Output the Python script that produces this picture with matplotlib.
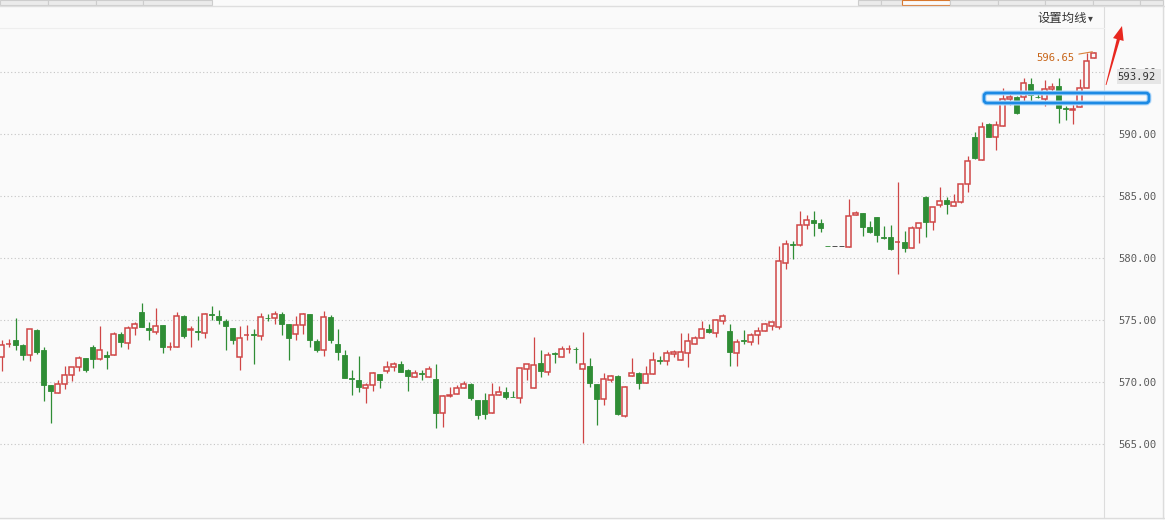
import matplotlib
matplotlib.use("Agg")
import matplotlib.pyplot as plt
from matplotlib.patches import Rectangle, FancyBboxPatch, Polygon
from matplotlib.lines import Line2D

# daily candles (oldest -> newest)
opens = [
    572.02, 573.04, 573.41, 573.01, 572.18, 574.22, 572.61, 569.78, 569.11, 569.84,
    570.56, 571.21, 571.96, 572.82, 571.83, 572.20, 572.18, 573.90, 573.15, 574.35,
    575.67, 574.38, 574.01, 574.62, 572.80, 572.80, 575.35, 574.19, 574.11, 573.95,
    575.51, 575.35, 574.95, 574.38, 572.02, 573.76, 573.84, 573.68, 575.19, 575.13,
    575.51, 574.70, 573.87, 574.60, 575.51, 573.31, 572.55, 575.24, 573.09, 572.20,
    570.32, 570.19, 569.49, 569.73, 570.65, 570.91, 571.18, 571.45, 570.97, 570.43,
    570.75, 570.43, 570.22, 567.47, 568.90, 569.03, 569.49, 569.84, 568.55, 568.55,
    567.47, 568.92, 569.19, 568.82, 568.68, 571.02, 569.49, 571.51, 570.83, 572.31,
    572.04, 572.63, 572.69, 571.02, 571.29, 569.84, 568.60, 570.13, 570.48, 567.26,
    570.46, 570.75, 569.89, 570.62, 571.77, 571.67, 572.26, 571.77, 572.31, 573.09,
    573.52, 574.28, 573.98, 574.95, 574.11, 572.37, 573.39, 573.26, 573.76, 574.09,
    574.54, 574.46, 579.57, 581.13, 581.05, 582.63, 583.06, 582.85, 580.94, 580.94,
    580.94, 580.91, 583.44, 583.60, 582.47, 583.28, 581.67, 581.69, 581.26, 581.29,
    580.78, 582.39, 584.92, 582.87, 584.27, 584.65, 584.19, 584.54, 585.94, 589.78,
    587.90, 590.81, 589.73, 590.65, 592.80, 593.01, 593.01, 594.03, 593.01, 592.82,
    593.60, 593.87, 592.07, 591.94, 592.15, 593.68, 596.10,
]
closes = [
    573.01, 573.06, 573.01, 572.20, 574.27, 572.45, 569.78, 569.25, 569.84, 570.56,
    571.21, 571.96, 570.94, 571.85, 572.58, 571.99, 573.90, 573.20, 574.35, 574.70,
    574.41, 574.17, 574.54, 572.80, 572.83, 575.35, 573.68, 574.27, 574.01, 575.51,
    575.40, 574.97, 574.49, 573.41, 573.55, 573.82, 573.76, 575.24, 575.13, 575.51,
    574.70, 573.52, 574.62, 575.51, 573.36, 572.61, 575.24, 573.41, 572.39, 570.35,
    570.24, 569.57, 569.76, 570.70, 570.16, 571.24, 571.45, 570.83, 570.51, 570.70,
    570.67, 571.02, 567.53, 568.87, 568.98, 569.49, 569.81, 568.71, 567.37, 567.39,
    568.92, 569.19, 568.82, 568.77, 571.10, 571.42, 571.34, 570.91, 572.15, 572.23,
    572.63, 572.69, 572.63, 571.43, 569.89, 568.66, 570.27, 570.46, 567.42, 569.60,
    570.70, 569.95, 570.62, 571.75, 571.72, 572.37, 572.45, 572.42, 573.31, 573.52,
    574.25, 574.06, 575.00, 575.32, 572.45, 573.20, 573.31, 573.79, 574.09, 574.68,
    574.81, 579.76, 581.13, 581.08, 582.66, 583.06, 582.85, 582.45, 580.94, 580.94,
    580.94, 583.39, 583.60, 582.53, 582.12, 581.83, 581.61, 580.75, 581.29, 580.83,
    582.39, 582.80, 582.93, 584.14, 584.62, 584.33, 584.54, 585.94, 587.85, 588.04,
    590.54, 589.78, 590.73, 592.80, 592.96, 591.72, 594.09, 593.15, 592.96, 593.60,
    593.82, 592.12, 592.04, 591.99, 593.68, 595.91, 596.56,
]
highs = [
    573.41, 573.47, 575.19, 573.09, 574.27, 574.27, 572.82, 569.78, 570.19, 571.32,
    571.21, 572.12, 571.96, 573.01, 574.54, 572.53, 574.01, 574.01, 574.54, 574.84,
    576.40, 574.81, 575.97, 574.62, 573.25, 575.62, 575.43, 574.54, 575.35, 575.56,
    576.16, 575.83, 575.08, 574.38, 574.49, 574.62, 574.27, 575.56, 575.51, 575.73,
    575.65, 574.70, 575.30, 575.56, 575.51, 573.47, 575.73, 575.40, 574.30, 572.58,
    570.99, 572.07, 569.95, 570.83, 570.65, 571.67, 571.59, 571.67, 571.02, 570.97,
    570.97, 571.29, 571.45, 568.95, 569.57, 569.73, 570.05, 569.89, 568.55, 569.09,
    569.95, 569.68, 569.62, 569.30, 571.16, 571.45, 573.66, 572.58, 572.45, 572.45,
    572.90, 572.96, 572.80, 574.00, 571.94, 569.84, 570.70, 570.54, 570.54, 569.68,
    571.91, 570.83, 571.29, 572.42, 572.10, 572.58, 572.58, 573.98, 573.98, 573.71,
    574.89, 574.68, 575.11, 575.48, 574.68, 573.44, 574.19, 573.92, 574.46, 574.73,
    574.81, 580.97, 581.45, 581.40, 583.82, 583.47, 583.79, 583.12, 580.94, 580.94,
    580.94, 584.73, 583.76, 583.60, 582.98, 583.28, 582.58, 582.63, 586.13, 582.18,
    582.58, 582.80, 585.00, 584.14, 585.70, 584.89, 585.16, 585.94, 588.23, 590.19,
    590.99, 590.86, 591.08, 593.68, 593.42, 593.07, 594.49, 594.49, 593.42, 594.36,
    594.09, 594.49, 592.26, 592.69, 594.41, 596.51, 596.65,
]
lows = [
    570.86, 572.82, 572.61, 571.75, 571.67, 572.26, 568.44, 566.69, 569.11, 569.46,
    570.05, 570.86, 570.78, 571.10, 571.75, 571.05, 572.18, 572.80, 572.69, 573.79,
    574.41, 573.36, 573.87, 572.34, 572.61, 572.80, 573.52, 572.80, 573.36, 573.52,
    574.97, 574.70, 572.61, 573.09, 570.99, 573.41, 571.48, 573.41, 574.89, 574.65,
    573.82, 571.75, 573.41, 573.90, 572.82, 572.42, 572.07, 573.15, 571.80, 570.32,
    568.98, 569.17, 568.28, 569.30, 569.52, 570.75, 570.91, 570.83, 569.25, 570.43,
    570.16, 570.43, 566.26, 566.40, 568.82, 569.03, 569.49, 568.55, 567.04, 567.04,
    567.47, 568.92, 568.66, 568.76, 568.33, 570.16, 569.49, 570.43, 570.56, 571.51,
    572.04, 572.31, 571.51, 565.12, 569.62, 566.56, 568.17, 570.03, 567.34, 567.20,
    570.46, 569.44, 569.89, 570.62, 571.45, 571.40, 572.04, 571.77, 571.24, 573.09,
    573.52, 573.93, 573.66, 574.68, 571.32, 571.32, 573.07, 572.98, 573.07, 574.09,
    574.19, 574.25, 579.09, 579.92, 580.97, 582.37, 581.77, 582.12, 580.94, 580.94,
    580.94, 580.91, 583.44, 581.80, 582.04, 581.32, 581.56, 580.65, 578.68, 580.45,
    580.78, 581.18, 581.67, 582.26, 584.14, 583.52, 584.19, 584.46, 585.35, 587.96,
    587.90, 589.73, 588.71, 590.65, 592.34, 591.61, 592.61, 592.61, 592.88, 592.26,
    593.42, 590.86, 591.13, 590.81, 592.15, 593.68, 596.10,
]
price_ticks = [565, 570, 575, 580, 585, 590, 595]
last_label = "593.92"
high_label = "596.65"

W, H = 1165, 520
BG = "#fafafa"
RED = "#cf4646"
GREEN = "#2f8d35"
FLAT = "#333333"


def fx(x):
    return x / W


def fy(y):
    return 1 - y / H


fig = plt.figure(figsize=(W / 100, H / 100), dpi=100, facecolor=BG)
ax = fig.add_axes([0, fy(517), fx(1104), (517 - 7) / H])
ax.set_facecolor(BG)

# candles
for i in range(len(opens)):
    o, c, hi, lo = opens[i], closes[i], highs[i], lows[i]
    if c > o:
        col = RED
    elif c < o:
        col = GREEN
    else:
        prev = closes[i - 1] if i > 0 else c
        col = GREEN if c < prev else (RED if c > prev else FLAT)
    ax.vlines(i, lo, hi, color=col, lw=0.9, zorder=2)
    bottom = min(o, c)
    height = max(abs(c - o), 0.02)
    if col == RED and hi - lo > 0:
        ax.bar(i, height, 0.66, bottom, facecolor=BG, edgecolor=col, lw=1.1, zorder=3)
    else:
        ax.bar(i, height, 0.72, bottom, facecolor=col, edgecolor=col, lw=0.6, zorder=3)

for v in price_ticks:
    ax.axhline(v, color="#c4c4c4", lw=0.8, ls=(0, (1, 2.2)), zorder=0)

ax.set_xlim(-0.243, 157.47)
ax.set_ylim(559.113, 600.242)
ax.set_xticks([])
ax.yaxis.tick_right()
ax.set_yticks(price_ticks)
ax.set_yticklabels(["%.2f" % v for v in price_ticks])
ax.tick_params(axis="y", length=0, pad=10, labelsize=7.6, labelcolor="#5a5a5a")
for lab in ax.get_yticklabels():
    lab.set_family("DejaVu Sans Mono")
for side in ["left", "top", "bottom"]:
    ax.spines[side].set_visible(False)
ax.spines["right"].set_color("#dcdcdc")

# highest price marker
ax.annotate(high_label, xy=(len(opens) - 1, max(highs)), xytext=(-19, -6.5),
            textcoords="offset pixels", ha="right", va="center", color="#c8661a",
            fontsize=7.6, family="DejaVu Sans Mono",
            arrowprops=dict(arrowstyle="-", color="#d8803a", lw=0.8, shrinkA=1, shrinkB=1))

# latest price box on the axis (sits over the 595.00 label, as in the screenshot)
fig.add_artist(Rectangle((fx(1117), fy(84)), fx(1161) - fx(1117), 15 / H,
                         transform=fig.transFigure, facecolor="#e6e6e6", edgecolor="none"))
fig.text(fx(1156), fy(76.5), last_label, ha="right", va="center", fontsize=7.6,
         family="DejaVu Sans Mono", color="#333333")

# top tab strip
for xs, hi_tab in [([0, 48, 96, 143, 212], None),
                   ([858, 881, 902, 950, 998, 1045, 1093, 1140, 1163], 2)]:
    for k in range(len(xs) - 1):
        orange = hi_tab is not None and k == hi_tab
        fig.add_artist(Rectangle((fx(xs[k]), fy(4.5)), fx(xs[k + 1]) - fx(xs[k]), 4.5 / H,
                                 transform=fig.transFigure,
                                 facecolor=BG if orange else "#ebebeb",
                                 edgecolor="#d8782e" if orange else "#cdcdcd", lw=0.8))
fig.add_artist(Line2D([0, 1], [fy(6), fy(6)], transform=fig.transFigure, color="#dedede", lw=1))
fig.add_artist(Line2D([0, fx(1104)], [fy(28), fy(28)], transform=fig.transFigure,
                      color="#eeeeee", lw=0.8))
fig.add_artist(Line2D([0, 1], [fy(518), fy(518)], transform=fig.transFigure, color="#dcdcdc", lw=1))
fig.add_artist(Line2D([fx(1163), fx(1163)], [fy(6), fy(518)], transform=fig.transFigure,
                      color="#dcdcdc", lw=1))

fig.text(fx(1037), fy(18), "设置均线", ha="left", va="center", fontsize=8.9,
         family=["Noto Sans CJK SC", "DejaVu Sans"], color="#333333")
fig.text(fx(1088), fy(18), "▾", ha="left", va="center", fontsize=7, color="#444444")

# blue highlight box
for lw, col in [(3.6, "#b7dbfb"), (2.0, "#1c8ae4")]:
    fig.add_artist(FancyBboxPatch((fx(984), fy(103)), fx(1149) - fx(984), 10 / H,
                                  boxstyle="round,pad=0,rounding_size=%f" % (3 / W),
                                  mutation_aspect=W / H, transform=fig.transFigure,
                                  facecolor="none", edgecolor=col, lw=lw))

# red arrow
tail, tip = (1106, 85), (1122, 26)
dx, dy = tip[0] - tail[0], tip[1] - tail[1]
ln = (dx ** 2 + dy ** 2) ** 0.5
ux, uy = dx / ln, dy / ln
nx, ny = -uy, ux
bx, by = tip[0] - 14 * ux, tip[1] - 14 * uy
pts = [(tail[0] - 0.4 * nx, tail[1] - 0.4 * ny), (bx - 1.6 * nx, by - 1.6 * ny),
       (bx - 5.5 * nx, by - 5.5 * ny), tip, (bx + 5.5 * nx, by + 5.5 * ny),
       (bx + 1.6 * nx, by + 1.6 * ny), (tail[0] + 0.4 * nx, tail[1] + 0.4 * ny)]
fig.add_artist(Polygon([(fx(px), fy(py)) for px, py in pts], closed=True,
                       transform=fig.transFigure, facecolor="#e8271f", edgecolor="none"))

fig.savefig("out.png", dpi=100, facecolor=BG)
